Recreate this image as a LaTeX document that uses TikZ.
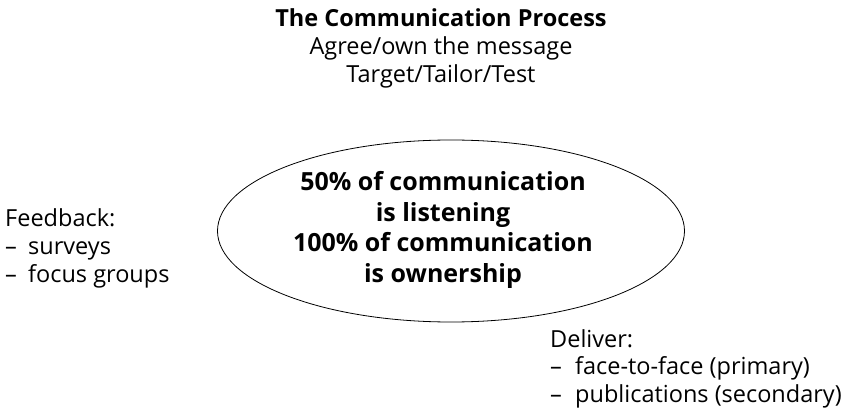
\documentclass[tikz,border=0pt]{standalone}
\usepackage{fontspec}
\setmainfont{Open Sans}
\usetikzlibrary{shapes.geometric}

\begin{document}
\begin{tikzpicture}[x=1pt, y=-1pt]
    \useasboundingbox (0, 0) rectangle (847, 409);
    \tikzset{txt/.style={inner sep=0pt, font=\fontsize{23.5}{28.3}\selectfont}}

    \node [txt, align=center, anchor=north] (title) at (441, 8) {\textbf{The Communication Process}\\ Agree/own the message\\ Target/Tailor/Test};

    \node [draw, ellipse, minimum width=467, minimum height=182, line width=0.8pt] (loop) at (451, 231) {};
    \node [txt, align=center, anchor=north, font=\bfseries\fontsize{25}{30.7}\selectfont] (core) at (443, 171) {50\% of communication\\ is listening\\ 100\% of communication\\ is ownership};

    \node [txt, align=left, anchor=north west] (feedback) at (5, 208) {Feedback:\\ \makebox[23pt][l]{--}surveys\\ \makebox[23pt][l]{--}focus groups};

    \node [txt, align=left, anchor=north west, font=\fontsize{23.5}{27.5}\selectfont] (deliver) at (550, 329) {Deliver:\\ \makebox[25pt][l]{--}face-to-face (primary)\\ \makebox[25pt][l]{--}publications (secondary)};

  \end{tikzpicture}
\end{document}
